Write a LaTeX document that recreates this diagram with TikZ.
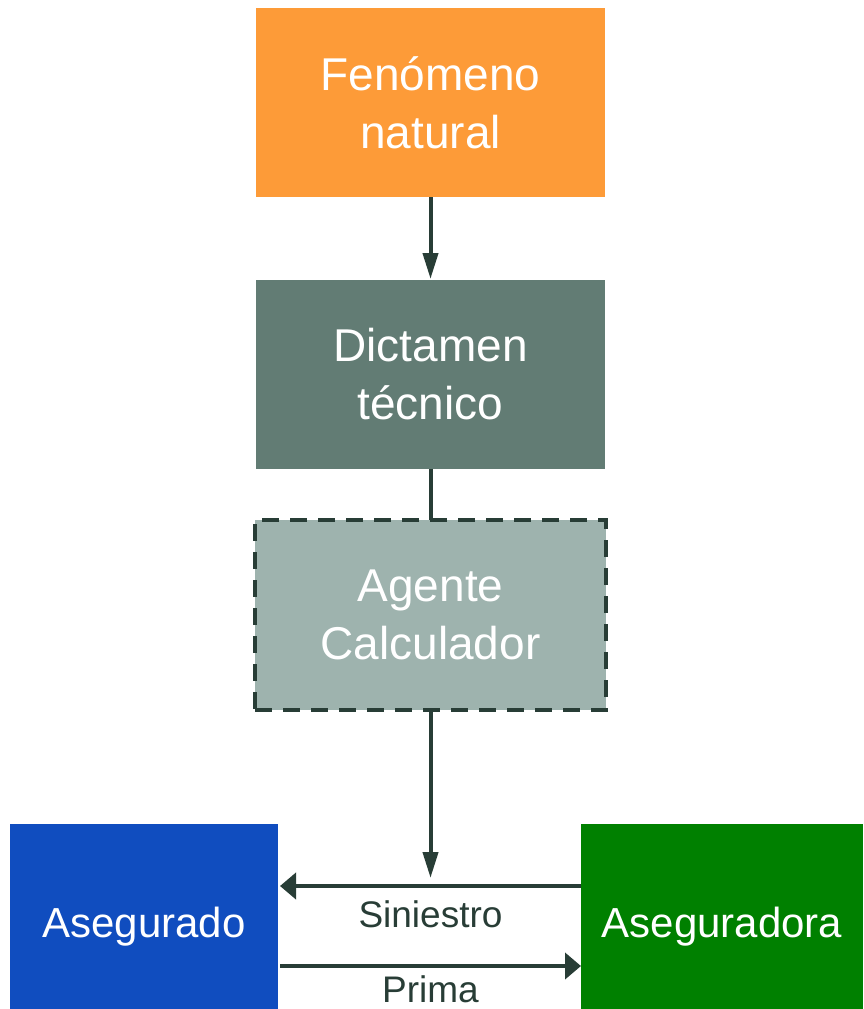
\documentclass[tikz,border=0pt]{standalone}
\usepackage{fontspec}
\setmainfont{Liberation Sans}
\usetikzlibrary{arrows.meta}
\definecolor{corange}{RGB}{253,155,56}
\definecolor{cdict}{RGB}{98,124,116}
\definecolor{cagent}{RGB}{158,179,174}
\definecolor{cdark}{RGB}{40,61,54}
\definecolor{cblue}{RGB}{16,77,191}
\definecolor{cgreen}{RGB}{0,128,0}
\begin{document}
\begin{tikzpicture}[x=1pt,y=-1pt,
  box/.style={rectangle, inner sep=0pt, outer sep=0pt, text=white, align=center,
    font=\fontsize{46}{58}\selectfont},
  bbox/.style={box, minimum height=185pt, font=\fontsize{42}{50}\selectfont,
    text height=41pt, text depth=0pt},
  conn/.style={draw=cdark, line width=4pt},
  varrow/.style={conn, -{Triangle[length=26pt,width=15pt]}},
  harrow/.style={conn, -{Triangle[length=16pt,width=26pt]}},
  lbl/.style={text=cdark, font=\fontsize{37}{44}\selectfont, inner sep=0pt}]
\useasboundingbox (0,0) rectangle (863,1009);
\node[box, fill=corange, minimum width=349pt, minimum height=189pt] (fen) at (430.5,102.5) {Fenómeno\\natural};
\node[box, fill=cdict, minimum width=349pt, minimum height=189pt] (dict) at (430.5,374.5) {Dictamen\\técnico};
\node[box, fill=cagent, draw=cdark, line width=3.5pt, dash pattern=on 17pt off 11pt, minimum width=351pt, minimum height=190pt] (agent) at (430.5,615) {Agente\\Calculador};
\node[bbox, fill=cblue, minimum width=268pt] (ado) at (144,916.5) {Asegurado};
\node[bbox, fill=cgreen, minimum width=282pt] (ora) at (722,916.5) {Aseguradora};
\coordinate (mid) at (430.5,878);
\draw[varrow] (fen) -- ([yshift=1pt]dict.north);
\draw[conn] (dict) -- (agent);
\draw[varrow] (agent) -- (mid);
\draw[harrow] ([yshift=30.5pt]ora.west) -- ([yshift=30.5pt,xshift=2pt]ado.east);
\draw[harrow] ([yshift=-49.5pt,xshift=2pt]ado.east) -- ([yshift=-49.5pt]ora.west);
\node[lbl] (sin) at (430.5,914) {Siniestro};
\node[lbl] (pri) at (430.5,989) {Prima};
\end{tikzpicture}
\end{document}
